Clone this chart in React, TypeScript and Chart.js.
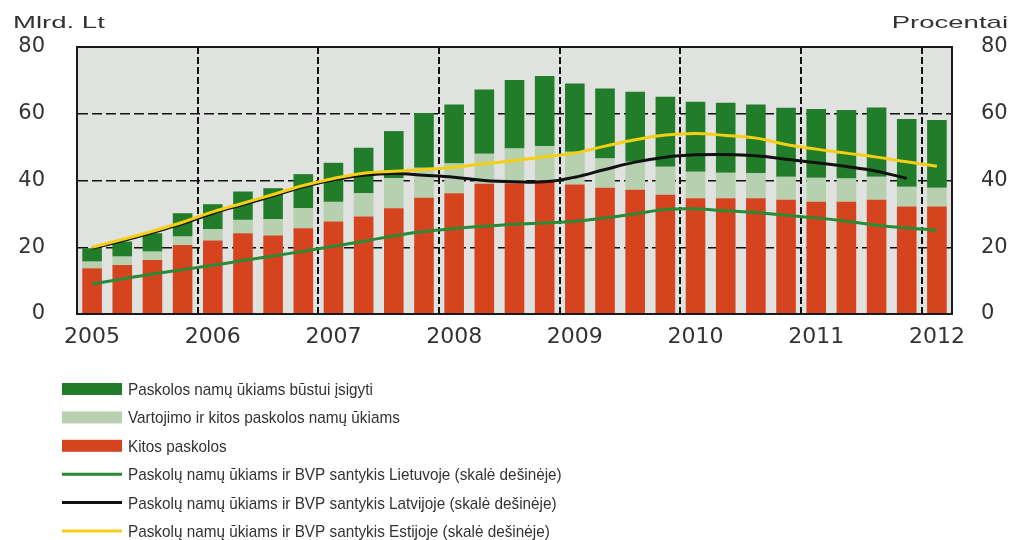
import React, { useEffect, useRef } from "react";
import { Chart, registerables } from "chart.js";

Chart.register(...registerables);

const quarters = [
  "2005 I", "2005 II", "2005 III", "2005 IV",
  "2006 I", "2006 II", "2006 III", "2006 IV",
  "2007 I", "2007 II", "2007 III", "2007 IV",
  "2008 I", "2008 II", "2008 III", "2008 IV",
  "2009 I", "2009 II", "2009 III", "2009 IV",
  "2010 I", "2010 II", "2010 III", "2010 IV",
  "2011 I", "2011 II", "2011 III", "2011 IV",
  "2012 I",
];

const xTickLabels = [
  "2005", "", "", "",
  "2006", "", "", "",
  "2007", "", "", "",
  "2008", "", "", "",
  "2009", "", "", "",
  "2010", "", "", "",
  "2011", "", "", "",
  "2012",
];

const yTicks = [0, 20, 40, 60, 80];

// Mlrd. Lt (left scale)
const kitosPaskolos = [
  13.7, 14.7, 16.2, 20.7, 22.0, 24.2, 23.5, 25.7, 27.7, 29.2, 31.7, 34.8, 36.2, 39.0, 39.2,
  40.0, 38.8, 37.8, 37.2, 35.7, 34.7, 34.7, 34.7, 34.2, 33.6, 33.6, 34.2, 32.2, 32.2,
];
const vartojimoPaskolos = [
  2.0, 2.5, 2.5, 2.5, 3.4, 4.0, 4.9, 6.0, 5.9, 7.0, 9.0, 9.0, 8.9, 9.0, 10.4,
  10.3, 9.8, 8.8, 8.4, 8.4, 7.9, 7.6, 7.5, 6.9, 7.2, 7.0, 6.9, 5.9, 5.6,
];
const bustuiPaskolos = [
  4.0, 4.5, 5.5, 7.0, 7.5, 8.5, 9.3, 10.2, 11.7, 13.6, 14.1, 16.4, 17.7, 19.3, 20.5,
  21.0, 20.5, 21.0, 21.0, 21.0, 21.0, 21.0, 20.6, 20.7, 20.6, 20.5, 20.8, 20.3, 20.3,
];

// Procentai (right scale)
const santykisLietuva = [
  9.0, 10.5, 12.0, 13.3, 14.6, 16.0, 17.4, 18.8, 20.3, 21.8, 23.4, 24.7, 25.6, 26.3, 26.9,
  27.3, 27.8, 28.8, 30.0, 31.3, 31.5, 30.9, 30.4, 29.6, 28.8, 27.8, 26.6, 25.8, 25.2,
];
const santykisLatvija = [
  19.7, 21.9, 24.4, 27.1, 30.2, 32.8, 35.4, 38.1, 40.2, 41.6, 42.1, 41.6, 41.0, 40.0, 39.6,
  39.6, 41.0, 43.3, 45.5, 47.0, 47.7, 47.8, 47.4, 46.4, 45.3, 44.2, 42.8, 40.6, null,
];
const santykisEstija = [
  20.0, 22.3, 24.8, 27.5, 30.6, 33.2, 35.8, 38.5, 40.6, 42.2, 42.8, 43.3, 44.0, 45.0, 46.0,
  47.1, 48.2, 50.3, 52.2, 53.6, 54.1, 53.5, 52.7, 50.8, 49.4, 48.2, 47.0, 45.6, 44.3,
];

const seriesLabels = [
  "Kitos paskolos",
  "Vartojimo ir kitos paskolos namų ūkiams",
  "Paskolos namų ūkiams būstui įsigyti",
  "Paskolų namų ūkiams ir BVP santykis Lietuvoje (skalė dešinėje)",
  "Paskolų namų ūkiams ir BVP santykis Latvijoje (skalė dešinėje)",
  "Paskolų namų ūkiams ir BVP santykis Estijoje (skalė dešinėje)",
];

const leftTitle = "Mlrd. Lt";
const rightTitle = "Procentai";

const RED = "#d6441f";
const LIGHT = "#b6d0b0";
const DARK = "#227d2a";
const LINE_GREEN = "#2b8a35";
const LINE_BLACK = "#111111";
const LINE_YELLOW = "#f6cf14";
const TEXT = "#333333";

const legendOrder = [2, 1, 0, 3, 4, 5];

function scaledText(ctx: CanvasRenderingContext2D, text: string, x: number, y: number, sx: number, align: CanvasTextAlign) {
  ctx.save();
  ctx.translate(x, y);
  ctx.scale(sx, 1);
  ctx.textAlign = align;
  ctx.textBaseline = "alphabetic";
  ctx.fillText(text, 0, 0);
  ctx.restore();
}

const framePlugin = {
  id: "frame",
  beforeDraw(chart: any) {
    const { ctx, chartArea } = chart;
    const { left, top, right, bottom } = chartArea;
    ctx.save();
    ctx.fillStyle = "#dfe2df";
    ctx.fillRect(left, top, right - left, bottom - top);
    ctx.restore();
  },
  afterDraw(chart: any) {
    const { ctx, chartArea } = chart;
    const { left, top, right, bottom } = chartArea;
    ctx.save();
    ctx.strokeStyle = "#1a1a1a";
    ctx.lineWidth = 2;
    ctx.strokeRect(left, top, right - left, bottom - top);

    // axis unit titles
    ctx.fillStyle = TEXT;
    ctx.font = '17px "Liberation Sans", Arial, sans-serif';
    scaledText(ctx, leftTitle, 13, 28, 1.62, "left");
    scaledText(ctx, rightTitle, 1008, 28, 1.62, "right");

    // legend
    const datasets = chart.data.datasets;
    ctx.font = '17px "Liberation Sans", Arial, sans-serif';
    legendOrder.forEach((di, row) => {
      const ds = datasets[di];
      const cy = 389 + row * 28.4;
      if (ds.type === "line") {
        ctx.strokeStyle = ds.borderColor;
        ctx.lineWidth = 3;
        ctx.beginPath();
        ctx.moveTo(62, cy);
        ctx.lineTo(122, cy);
        ctx.stroke();
      } else {
        ctx.fillStyle = ds.backgroundColor;
        ctx.fillRect(62, cy - 6, 60, 12);
      }
      ctx.fillStyle = TEXT;
      scaledText(ctx, ds.label, 128, cy + 6, 0.9, "left");
    });
    ctx.restore();
  },
};

export default function App() {
  const canvasRef = useRef<HTMLCanvasElement | null>(null);

  useEffect(() => {
    const canvas = canvasRef.current;
    if (!canvas) return;

    const barBase = {
      type: "bar" as const,
      yAxisID: "y",
      stack: "s",
      barPercentage: 0.65,
      categoryPercentage: 1.0,
      borderWidth: 0,
      order: 10,
    };
    const lineBase = {
      type: "line" as const,
      yAxisID: "y2",
      borderWidth: 3,
      pointRadius: 0,
      pointHoverRadius: 0,
      tension: 0.4,
      fill: false,
    };

    const chart = new Chart(canvas, {
      data: {
        labels: quarters,
        datasets: [
          { ...barBase, label: seriesLabels[0], data: kitosPaskolos, backgroundColor: RED },
          { ...barBase, label: seriesLabels[1], data: vartojimoPaskolos, backgroundColor: LIGHT },
          { ...barBase, label: seriesLabels[2], data: bustuiPaskolos, backgroundColor: DARK },
          { ...lineBase, label: seriesLabels[3], data: santykisLietuva, borderColor: LINE_GREEN, order: 2 },
          { ...lineBase, label: seriesLabels[4], data: santykisLatvija, borderColor: LINE_BLACK, order: 1 },
          { ...lineBase, label: seriesLabels[5], data: santykisEstija, borderColor: LINE_YELLOW, order: 0 },
        ] as any,
      },
      options: {
        responsive: false,
        animation: false,
        devicePixelRatio: 1,
        layout: { padding: { top: 47, left: 0, right: 0, bottom: 186 } },
        plugins: {
          legend: { display: false },
          tooltip: { enabled: false },
          title: { display: false },
        },
        scales: {
          x: {
            type: "category",
            stacked: true,
            offset: true,
            grid: {
              offset: true,
              drawTicks: false,
              lineWidth: 2,
              color: (c: any) =>
                typeof c.index === "number" && c.index > 0 && c.index < quarters.length && c.index % 4 === 0
                  ? "#111111"
                  : "rgba(0,0,0,0)",
            },
            border: { display: true, color: "#1a1a1a", width: 2, dash: [7, 3] },
            ticks: {
              autoSkip: false,
              maxRotation: 0,
              minRotation: 0,
              padding: 10,
              color: TEXT,
              font: { family: '"DejaVu Sans", sans-serif', size: 22 },
              callback: (_v: any, i: number) => xTickLabels[i],
            },
            afterFit: (s: any) => {
              s.height = 40;
            },
          },
          y: {
            type: "linear",
            position: "left",
            stacked: true,
            min: 0,
            max: 80,
            afterBuildTicks: (s: any) => {
              s.ticks = yTicks.map((v) => ({ value: v }));
            },
            grid: {
              drawTicks: false,
              lineWidth: 1.5,
              color: (c: any) =>
                c.tick && c.tick.value > 0 && c.tick.value < 80 ? "#111111" : "rgba(0,0,0,0)",
            },
            border: { display: true, color: "#1a1a1a", width: 2, dash: [10, 4] },
            ticks: {
              padding: 32,
              color: TEXT,
              font: { family: '"DejaVu Sans", sans-serif', size: 21 },
            },
            afterFit: (s: any) => {
              s.width = 77;
            },
          },
          y2: {
            type: "linear",
            position: "right",
            min: 0,
            max: 80,
            afterBuildTicks: (s: any) => {
              s.ticks = yTicks.map((v) => ({ value: v }));
            },
            grid: { drawOnChartArea: false, drawTicks: false },
            border: { display: true, color: "#1a1a1a", width: 2 },
            ticks: {
              padding: 29,
              color: TEXT,
              font: { family: '"DejaVu Sans", sans-serif', size: 21 },
            },
            afterFit: (s: any) => {
              s.width = 64;
            },
          },
        },
      } as any,
      plugins: [framePlugin],
    });

    return () => {
      chart.destroy();
    };
  }, []);

  return (
    <div style={{ position: "absolute", left: 0, top: 0, width: 1016, height: 540, background: "#ffffff" }}>
      <canvas ref={canvasRef} width={1016} height={540} style={{ display: "block" }} />
    </div>
  );
}
